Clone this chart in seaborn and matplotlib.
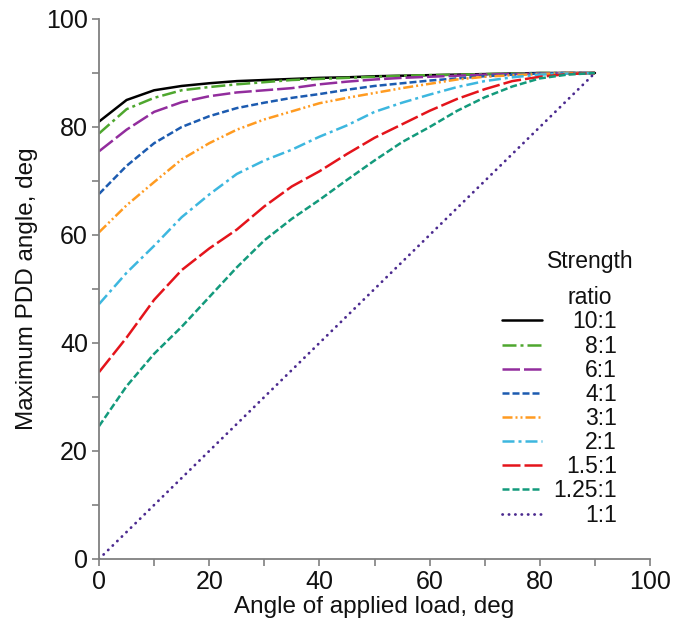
import matplotlib
matplotlib.use("Agg")
import matplotlib.pyplot as plt
import seaborn as sns
from matplotlib.ticker import MultipleLocator

angle = [0, 5, 10, 15, 20, 25, 30, 35, 40, 45, 50, 55, 60, 65, 70, 75, 80, 85, 90]

r10 = [81.0, 85.0, 86.8, 87.6, 88.1, 88.5, 88.7, 88.9, 89.1, 89.2, 89.4, 89.5, 89.6, 89.7, 89.8, 89.9, 90.0, 90.0, 90.0]
r8 = [78.8, 83.3, 85.4, 86.8, 87.4, 87.9, 88.3, 88.7, 88.9, 89.1, 89.3, 89.5, 89.6, 89.7, 89.8, 89.9, 90.0, 90.0, 90.0]
r6 = [75.5, 79.5, 82.8, 84.6, 85.7, 86.4, 86.8, 87.2, 87.9, 88.4, 88.8, 89.1, 89.3, 89.5, 89.7, 89.8, 89.9, 90.0, 90.0]
r4 = [67.6, 72.8, 77.0, 80.0, 82.0, 83.5, 84.5, 85.4, 86.1, 86.9, 87.6, 88.1, 88.6, 89.0, 89.4, 89.7, 89.9, 90.0, 90.0]
r3 = [60.5, 65.5, 69.8, 74.0, 77.0, 79.5, 81.4, 82.9, 84.4, 85.4, 86.3, 87.2, 88.0, 88.8, 89.3, 89.6, 89.8, 90.0, 90.0]
r2 = [47.2, 53.0, 58.0, 63.3, 67.5, 71.3, 73.8, 75.8, 78.2, 80.3, 82.8, 84.5, 86.0, 87.4, 88.5, 89.2, 89.7, 89.9, 90.0]
r15 = [34.6, 41.0, 48.0, 53.5, 57.5, 61.0, 65.3, 69.0, 71.8, 75.0, 78.0, 80.5, 83.0, 85.2, 87.0, 88.5, 89.3, 89.8, 90.0]
r125 = [24.6, 32.0, 38.0, 43.0, 48.5, 54.0, 59.0, 63.0, 66.5, 70.2, 73.8, 77.2, 80.0, 83.0, 85.5, 87.5, 89.0, 89.7, 90.0]
r1 = [0, 5, 10, 15, 20, 25, 30, 35, 40, 45, 50, 55, 60, 65, 70, 75, 80, 85, 90]

labels = ["10:1", "8:1", "6:1", "4:1", "3:1", "2:1", "1.5:1", "1.25:1", "1:1"]
series = [r10, r8, r6, r4, r3, r2, r15, r125, r1]
colors = ["#000000", "#4ea72e", "#922d9d", "#1c5bb0", "#ff9b21",
          "#3db7df", "#e4141b", "#139a7c", "#4b2a8f"]
styles = ["-", (0, (5.6, 1.6, 1.2, 1.6)), (0, (7, 1.6)), (0, (2.8, 1.2)),
          (0, (4, 1.2, 0.8, 1.2, 0.8, 1.2)), (0, (4.8, 1.6, 1.2, 1.6)),
          (0, (7.2, 1.6)), (0, (2.8, 1.2)), (0, (0.1, 2.2))]

sns.set_style("ticks")
plt.rcParams['font.family'] = ['Liberation Sans', 'DejaVu Sans']
plt.rcParams['text.color'] = '#111111'
plt.rcParams['axes.labelcolor'] = '#111111'
plt.rcParams['xtick.labelcolor'] = '#111111'
plt.rcParams['ytick.labelcolor'] = '#111111'

fig = plt.figure(figsize=(6.75, 6.25), dpi=100)
ax = fig.add_axes([0.1467, 0.1056, 0.8163, 0.864])

for vals, lab, col, ls in zip(series, labels, colors, styles):
    dotted = lab == "1:1"
    sns.lineplot(x=angle, y=vals, ax=ax, color=col, linestyle=ls,
                 linewidth=2.0 if dotted else 1.8, label=lab,
                 dash_capstyle='round' if dotted else 'butt')

ax.set_xlim(0, 100)
ax.set_ylim(0, 100)
ax.xaxis.set_major_locator(MultipleLocator(20))
ax.yaxis.set_major_locator(MultipleLocator(20))
ax.xaxis.set_minor_locator(MultipleLocator(10))
ax.yaxis.set_minor_locator(MultipleLocator(10))
ax.tick_params(which='both', direction='out', length=5, width=1.2,
               color='#808080', labelsize=18, pad=3)
for s in ['top', 'right']:
    ax.spines[s].set_visible(False)
for s in ['left', 'bottom']:
    ax.spines[s].set_color('#808080')
    ax.spines[s].set_linewidth(1.3)

ax.set_xlabel('Angle of applied load, deg', fontsize=17.5, labelpad=1)
ax.set_ylabel('Maximum PDD angle, deg', fontsize=17.5, labelpad=6)

leg = ax.legend(loc='lower right', bbox_to_anchor=(0.94, 0.06),
                frameon=False, fontsize=16.5, handlelength=1.75,
                handletextpad=0.48, labelspacing=0.05, borderpad=0,
                borderaxespad=0)
fig.canvas.draw()
renderer = fig.canvas.get_renderer()
widths = [t.get_window_extent(renderer).width for t in leg.get_texts()]
shift = max(widths)
for t, w in zip(leg.get_texts(), widths):
    t.set_position((shift - w, 0))

ax.text(0.891, 0.518, 'Strength\nratio', transform=ax.transAxes,
        ha='center', va='center', fontsize=16.5, linespacing=1.75)

fig.savefig('out.png', dpi=100)
